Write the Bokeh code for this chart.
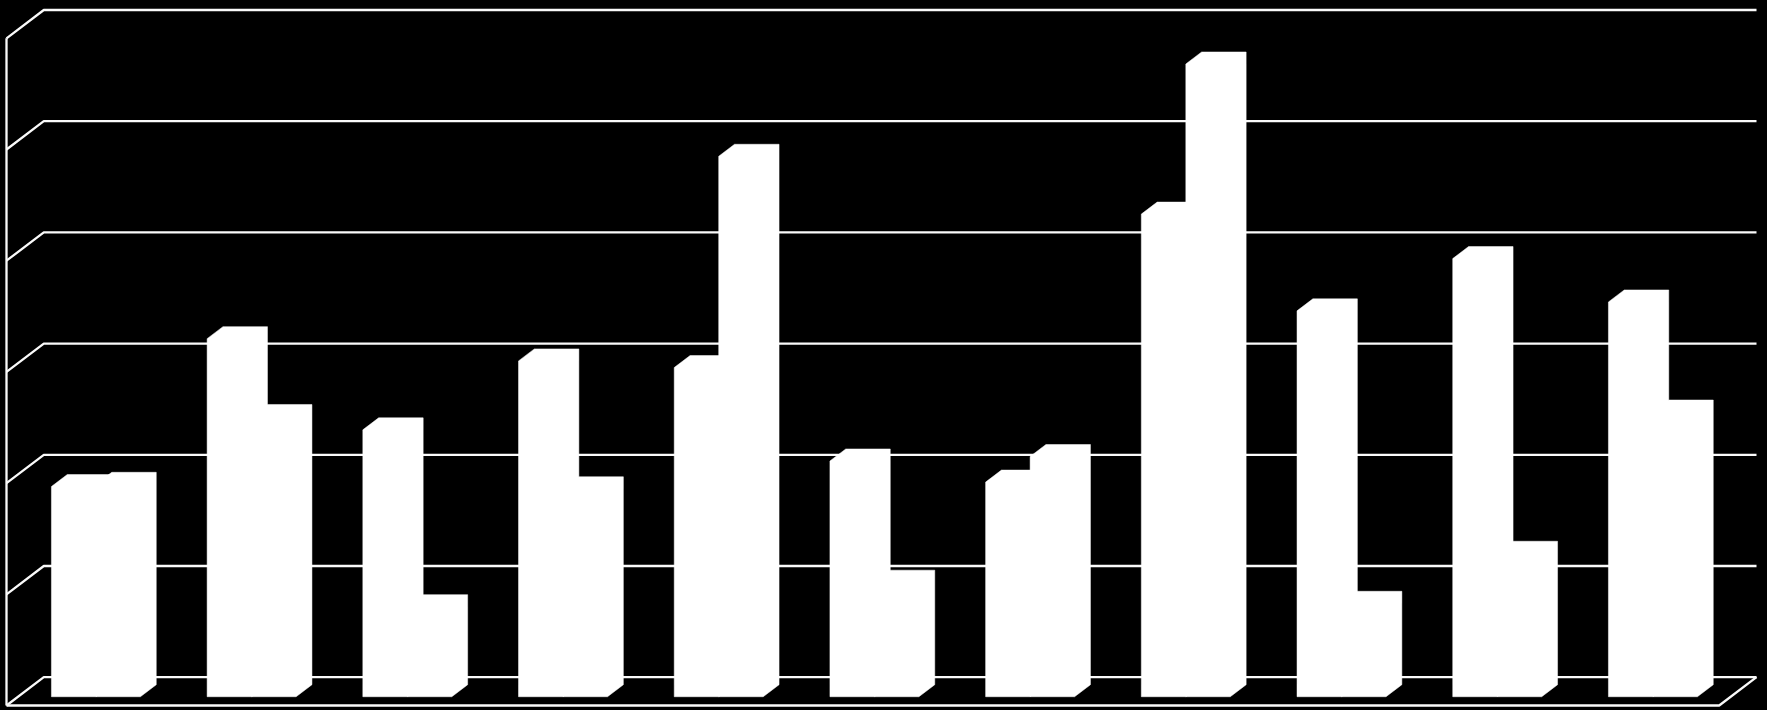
from bokeh.plotting import figure
from bokeh.models import Range1d, GlobalInlineStyleSheet
from bokeh.embed import file_html
from bokeh.resources import INLINE

# ---- data -------------------------------------------------------------
categories = ["1", "2", "3", "4", "5", "6", "7", "8", "9", "10", "11"]
series_1 = [18.9, 32.2, 24.0, 30.2, 29.6, 21.2, 19.3, 43.4, 34.7, 39.4, 35.5]
series_2 = [19.1, 25.2, 8.1, 18.7, 48.6, 10.3, 21.6, 56.9, 8.4, 12.9, 25.6]
value_ticks = [0, 10, 20, 30, 40, 50, 60]

# ---- layout / styling -------------------------------------------------
W, H = 1767, 710
PX_PER_CAT = 155.7
PX_PER_VAL = 11.12
ORIGIN_PX = (6.0, 705.0)          # front-left floor corner on screen
DEPTH_PX = (37.3, 28.3)           # oblique depth offset
DX = DEPTH_PX[0] / PX_PER_CAT
DY = DEPTH_PX[1] / PX_PER_VAL
BAR_W = 1 / 3.5
D_FRONT, D_BACK = 0.31, 0.735
LINE_COL = "#FAFAFA"
LINE_W = 2.3

n = len(categories)
vmax = value_ticks[-1]

x0 = -ORIGIN_PX[0] / PX_PER_CAT
x1 = (W - ORIGIN_PX[0]) / PX_PER_CAT
y0 = (ORIGIN_PX[1] - H) / PX_PER_VAL
y1 = ORIGIN_PX[1] / PX_PER_VAL

p = figure(width=W, height=H, output_backend="svg", toolbar_location=None,
           x_axis_type=None, y_axis_type=None,
           x_range=Range1d(x0, x1), y_range=Range1d(y0, y1),
           min_border=0, background_fill_color="black",
           border_fill_color="black", outline_line_color=None)
p.stylesheets = [GlobalInlineStyleSheet(
    css="html, body {margin:0 !important; padding:0; background:#000; overflow:hidden;}")]

# back wall gridlines + left wall diagonals
xs, ys = [], []
for v in value_ticks:
    xs.append([0, DX, n + DX])
    ys.append([v, DY + v, DY + v])
p.multi_line(xs, ys, line_color=LINE_COL, line_width=LINE_W)

# left wall front edge, floor front edge and right floor edge
p.line([0, 0], [0, vmax], line_color=LINE_COL, line_width=LINE_W)
p.line([0, n, n + DX], [0, 0, DY], line_color=LINE_COL, line_width=LINE_W)

# bars
def bar_poly(a, w, h):
    fx, fy = D_FRONT * DX, D_FRONT * DY
    bx, by = D_BACK * DX, D_BACK * DY
    px = [a + fx, a + w + fx, a + w + bx, a + w + bx, a + bx, a + fx]
    py = [fy, fy, by, by + h, by + h, fy + h]
    return px, py

bxs, bys = [], []
for i in range(n):
    left = i + 0.5 - BAR_W
    for j, val in enumerate((series_1[i], series_2[i])):
        px, py = bar_poly(left + j * BAR_W, BAR_W, val)
        bxs.append(px)
        bys.append(py)
p.patches(bxs, bys, fill_color="white", line_color="white", line_width=0.5)

open("out.html", "w").write(file_html(p, INLINE))
